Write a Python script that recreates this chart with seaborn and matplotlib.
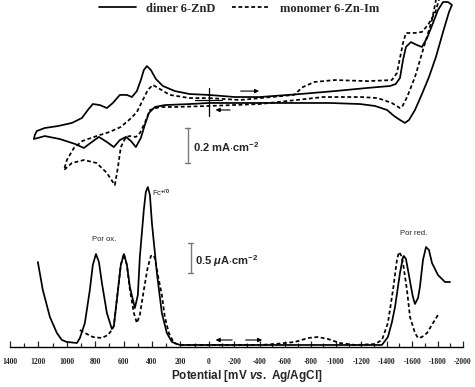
import numpy as np
import pandas as pd
import matplotlib
matplotlib.use("Agg")
import matplotlib.pyplot as plt
import seaborn as sns
from matplotlib.lines import Line2D
from matplotlib.ticker import FixedLocator, FuncFormatter

# ==============================
# DATA
# ==============================

# cyclic voltammetry, dimer 6-ZnD  (mV, mA cm-2)
cv_dimer_E = [0, -205, -400, -717, -990, -1250, -1425, -1470, -1504, -1528,
              -1551, -1590, -1638, -1677, -1717, -1764, -1803, -1843, -1882, -1913,
              -1890, -1843, -1787, -1732, -1677, -1622, -1575, -1543, -1504, -1457,
              -1402, -1307, -1189, -950, -400, 0, 134, 310, 380, 422,
              451, 479, 514, 549, 584, 627, 669, 718, 774, 824,
              880, 943, 1049, 1155, 1204, 1232, 1225, 1211, 1155, 1063,
              964, 894, 852, 817, 767, 718, 676, 627, 577, 542,
              507, 479, 458, 436, 408, 373, 324, 239, 134, 0]
cv_dimer_I = [0.029, 0.017, 0.017, 0.034, 0.051, 0.069, 0.080, 0.091, 0.126, 0.229,
              0.303, 0.331, 0.314, 0.303, 0.354, 0.440, 0.514, 0.560, 0.560, 0.543,
              0.503, 0.389, 0.246, 0.131, 0.034, -0.057, -0.114, -0.131, -0.114, -0.091,
              -0.057, -0.034, -0.023, -0.017, -0.017, -0.017, -0.023, -0.029, -0.040, -0.074,
              -0.143, -0.217, -0.269, -0.234, -0.211, -0.229, -0.269, -0.240, -0.211, -0.240,
              -0.274, -0.251, -0.223, -0.206, -0.217, -0.223, -0.200, -0.177, -0.160, -0.149,
              -0.131, -0.103, -0.057, -0.023, -0.029, -0.046, -0.017, 0.029, 0.029, 0.017,
              0.051, 0.114, 0.171, 0.194, 0.171, 0.120, 0.080, 0.051, 0.034, 0.029]

# cyclic voltammetry, monomer 6-Zn-Im  (mV, mA cm-2)
cv_mono_E = [0, -244, -670, -740, -830, -990, -1250, -1440, -1480, -1528,
             -1551, -1622, -1677, -1724, -1780, -1830, -1800, -1756, -1685, -1622,
             -1560, -1520, -1504, -1440, -1330, -1200, -900, -690, -400, 0,
             239, 345, 415, 451, 486, 514, 556, 584, 620, 640,
             662, 718, 790, 880, 964, 1020, 1000, 950, 890, 790,
             700, 620, 555, 507, 465, 430, 395, 345, 275, 134, 0]
cv_mono_I = [0.011, 0.000, 0.029, 0.074, 0.103, 0.114, 0.108, 0.114, 0.154, 0.326,
             0.383, 0.383, 0.389, 0.429, 0.497, 0.620, 0.620, 0.457, 0.286, 0.131,
             0.017, -0.040, -0.046, -0.017, 0.011, 0.017, 0.017, 0.000, -0.023, -0.034,
             -0.040, -0.040, -0.057, -0.131, -0.189, -0.211, -0.206, -0.211, -0.269, -0.383,
             -0.486, -0.417, -0.360, -0.343, -0.360, -0.400, -0.343, -0.274, -0.234, -0.206,
             -0.183, -0.154, -0.109, -0.069, 0.000, 0.057, 0.086, 0.063, 0.029, 0.011, 0.011]

# differential pulse voltammetry, dimer  (mV, uA cm-2)
dpv_dimer_E = [1204, 1169, 1119, 1070, 1035, 1000, 929, 908, 873, 838,
               817, 795, 774, 753, 718, 683, 669, 648, 620, 598,
               577, 556, 521, 500, 486, 458, 444, 430, 415, 401,
               366, 331, 296, 260, 204, 0, -717, -1362, -1409, -1441,
               -1465, -1504, -1528, -1535, -1551, -1567, -1591, -1606, -1622, -1646,
               -1661, -1685, -1709, -1732, -1756, -1803, -1858, -1898]
dpv_dimer_I = [1.400, 0.933, 0.483, 0.217, 0.100, 0.067, 0.050, 0.133, 0.383, 0.933,
               1.350, 1.533, 1.400, 1.050, 0.550, 0.283, 0.333, 0.767, 1.350, 1.533,
               1.350, 0.983, 0.633, 0.850, 1.483, 2.267, 2.567, 2.650, 2.517, 2.050,
               1.217, 0.550, 0.217, 0.067, 0.017, 0.017, 0.017, 0.017, 0.150, 0.400,
               0.650, 1.217, 1.483, 1.500, 1.450, 1.267, 0.983, 0.817, 0.700, 0.800,
               0.983, 1.433, 1.650, 1.600, 1.383, 1.183, 1.067, 1.067]

# differential pulse voltammetry, monomer  (mV, uA cm-2)
dpv_mono_E = [908, 873, 817, 753, 711, 683, 669, 648, 620, 598,
              577, 556, 528, 507, 486, 458, 430, 408, 394, 380,
              359, 331, 310, 282, 246, 204, 0, -400, -520, -677,
              -780, -858, -937, -1031, -1150, -1307, -1362, -1409, -1449, -1480,
              -1496, -1512, -1528, -1559, -1583, -1622, -1646, -1677, -1717, -1764, -1803]
dpv_mono_I = [0.267, 0.217, 0.150, 0.133, 0.183, 0.267, 0.333, 0.767, 1.350, 1.533,
              1.350, 0.933, 0.550, 0.383, 0.517, 0.933, 1.317, 1.500, 1.517, 1.467,
              1.183, 0.850, 0.483, 0.217, 0.050, 0.017, 0.017, 0.017, 0.033, 0.067,
              0.133, 0.150, 0.117, 0.050, 0.017, 0.033, 0.100, 0.383, 0.933, 1.433,
              1.567, 1.517, 1.383, 0.933, 0.483, 0.217, 0.133, 0.150, 0.217, 0.383, 0.517]

major_ticks = list(range(1400, -2001, -200))
minor_ticks = list(range(1400, -2001, -100))
legend_labels = ["dimer 6-ZnD", "monomer 6-Zn-Im"]

# ==============================
# STYLE
# ==============================

sns.set_style("white")
plt.rcParams.update({
    "font.family": ["Liberation Sans", "DejaVu Sans"],
    "axes.unicode_minus": False,
    "mathtext.fontset": "custom",
    "mathtext.rm": "Liberation Sans:bold",
    "mathtext.bf": "Liberation Sans:bold",
    "mathtext.it": "Liberation Sans:italic:bold",
    "lines.dashed_pattern": (2.2, 1.5),
})

# positive side of the potential axis is stretched a bit in the original
STRETCH = 1.118
def fwd(x):
    x = np.asarray(x, dtype=float)
    return np.where(x > 0, x * STRETCH, x)
def inv(u):
    u = np.asarray(u, dtype=float)
    return np.where(u > 0, u / STRETCH, u)

W, H = 475, 387
fig = plt.figure(figsize=(W / 100, H / 100), dpi=100)
ax_dpv = fig.add_axes([10 / W, 40 / H, 453 / W, 172 / H])
ax_cv = fig.add_axes([10 / W, 187 / H, 453 / W, 200 / H])

for ax in (ax_dpv, ax_cv):
    ax.set_xscale("function", functions=(fwd, inv))
    ax.set_xlim(1400, -2000)
    ax.patch.set_alpha(0)
    for s in ["left", "right", "top"]:
        ax.spines[s].set_visible(False)
    ax.set_yticks([])

ax_cv.spines["bottom"].set_visible(False)
ax_cv.set_ylim(-0.5714, 0.5714)
ax_dpv.set_ylim(-0.0167, 2.85)

LW = 1.25
# ---- CV ----
sns.lineplot(x=cv_dimer_E, y=cv_dimer_I, sort=False, estimator=None,
             ax=ax_cv, color="black", lw=LW)
sns.lineplot(x=cv_mono_E, y=cv_mono_I, sort=False, estimator=None,
             ax=ax_cv, color="black", lw=LW, linestyle="--")

# ---- DPV ----
sns.lineplot(x=dpv_dimer_E, y=dpv_dimer_I, sort=False, estimator=None,
             ax=ax_dpv, color="black", lw=LW)
sns.lineplot(x=dpv_mono_E, y=dpv_mono_I, sort=False, estimator=None,
             ax=ax_dpv, color="black", lw=LW, linestyle="--")

ax_cv.set_xlabel("")
ax_cv.set_ylabel("")
ax_dpv.set_ylabel("")
ax_cv.set_xticks([])

# ---- x axis ----
ax_dpv.spines["bottom"].set_color("black")
ax_dpv.spines["bottom"].set_linewidth(1.0)
ax_dpv.xaxis.set_major_locator(FixedLocator(major_ticks))
ax_dpv.xaxis.set_minor_locator(FixedLocator(minor_ticks))
ax_dpv.xaxis.set_major_formatter(FuncFormatter(lambda v, p: f"{int(round(v))}"))
ax_dpv.tick_params(axis="x", which="major", direction="in", length=4, width=0.9,
                   pad=8, labelsize=5.5, bottom=True)
ax_dpv.tick_params(axis="x", which="minor", direction="in", length=3, width=0.9,
                   bottom=True)
for lab in ax_dpv.get_xticklabels():
    lab.set_fontfamily("Liberation Serif")
    lab.set_fontweight("bold")
ax_dpv.set_xlabel(r"Potential [mV $\it{vs.}$ Ag/AgCl]", fontsize=8.5,
                  fontweight="bold")
ax_dpv.xaxis.set_label_coords(0.523, -0.125)

# ---- crosshair and scan arrows ----
ax_cv.plot([0, 0], [0.069, -0.091], color="black", lw=0.9)
ax_cv.plot([95, -100], [0.0, 0.0], color="black", lw=0.9)
arrow_kw = dict(arrowstyle="-|>", lw=0.8, color="black", mutation_scale=6)
ax_cv.annotate("", xy=(-417, 0.051), xytext=(-228, 0.051), arrowprops=arrow_kw)
ax_cv.annotate("", xy=(-31, -0.057), xytext=(-189, -0.057), arrowprops=arrow_kw)
ax_dpv.annotate("", xy=(-31, 0.10), xytext=(-205, 0.10), arrowprops=arrow_kw)
ax_dpv.annotate("", xy=(-441, 0.10), xytext=(-268, 0.10), arrowprops=arrow_kw)

# ---- scale bars ----
bar_c = "#7a7a7a"
ax_cv.plot([148, 148], [-0.16, -0.36], color=bar_c, lw=1.0)
for yy in (-0.16, -0.36):
    ax_cv.plot([165, 131], [yy, yy], color=bar_c, lw=1.0)
ax_cv.text(113, -0.269, r"0.2 mA$\cdot$cm$^{-2}$", fontsize=8, fontweight="bold",
           ha="left", va="center")

ax_dpv.plot([127, 127], [1.717, 1.217], color=bar_c, lw=1.0)
for yy in (1.717, 1.217):
    ax_dpv.plot([144, 110], [yy, yy], color=bar_c, lw=1.0)
ax_dpv.text(99, 1.417, r"0.5 $\mu$A$\cdot$cm$^{-2}$", fontsize=8, fontweight="bold",
            ha="left", va="center")

# ---- peak annotations ----
ax_dpv.text(740, 1.77, "Por ox.", fontsize=5.5, ha="center", va="center")
ax_dpv.text(400, 2.55, r"Fc$^{+/0}$", fontsize=5.5, ha="left", va="center")
ax_dpv.text(-1610, 1.87, "Por red.", fontsize=5.5, ha="center", va="center")

# ---- legend ----
handles = [Line2D([], [], color="black", lw=LW),
           Line2D([], [], color="black", lw=LW, linestyle="--")]
fig.legend(handles, legend_labels, loc="center", bbox_to_anchor=(0.503, 0.978),
           ncol=2, frameon=False, handlelength=3.0, handletextpad=0.8,
           columnspacing=1.3, prop={"family": "Liberation Serif", "weight": "bold", "size": 9})

fig.savefig("out.png", dpi=100)
